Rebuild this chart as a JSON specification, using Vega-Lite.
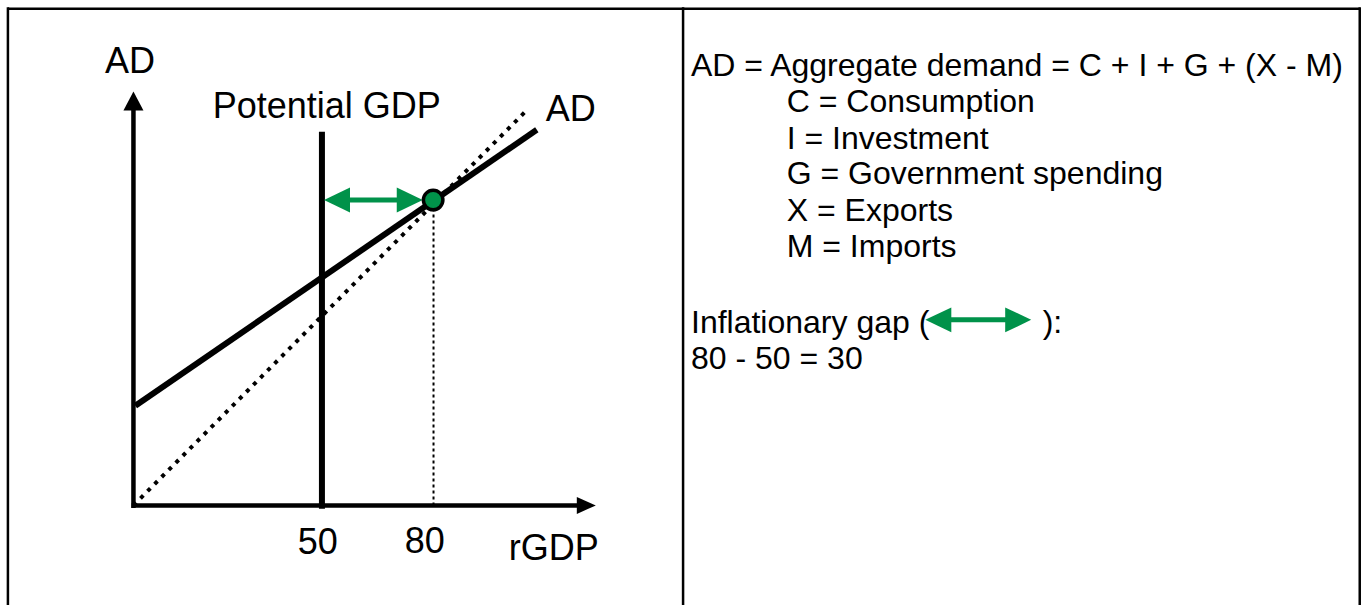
{
  "$schema": "https://vega.github.io/schema/vega-lite/v6.json",
  "width": 1362,
  "height": 607,
  "autosize": {"type": "fit", "contains": "padding"},
  "padding": 0,
  "background": "white",
  "config": {"view": {"stroke": null}},
  "datasets": {
    "frame": [
      {"x": -33.3, "y": 130.1, "x2": 325.3, "y2": 130.1},
      {"x": -33.3, "y": 130.5, "x2": -33.3, "y2": -26.1},
      {"x": 145.8, "y": 130.5, "x2": 145.8, "y2": -26.1},
      {"x": 325.3, "y": 130.5, "x2": 325.3, "y2": -26.1}
    ],
    "axes": [
      {"x": 0, "y": -0.7, "x2": 0, "y2": 103.6},
      {"x": -0.5, "y": 0, "x2": 117.8, "y2": 0}
    ],
    "arrowUp": [{"x": 0, "y": 105.8}],
    "arrowRight": [{"x": 120.0, "y": 0}],
    "diag": [{"x": 0, "y": 0, "x2": 104, "y2": 103.2}],
    "ad": [{"x": 0.5, "y": 26.1, "x2": 107, "y2": 98.4}],
    "potential": [{"x": 50, "y": -0.9, "x2": 50, "y2": 97.9}],
    "eqline": [{"x": 79.6, "y": 0, "x2": 79.6, "y2": 80}],
    "gapShaft": [
      {"x": 55, "y": 80, "x2": 72.5, "y2": 80},
      {"x": 213.5, "y": 48.6, "x2": 234.7, "y2": 48.6}
    ],
    "gapLeft": [{"x": 54.0, "y": 80}, {"x": 213.5, "y": 48.6}],
    "gapRight": [{"x": 73.3, "y": 80}, {"x": 234.7, "y": 48.6}],
    "eqpoint": [{"x": 79.5, "y": 80}],
    "bigText": [
      {"label": "AD", "x": -0.9, "y": 116.2},
      {"label": "Potential GDP", "x": 51.3, "y": 104.3},
      {"label": "AD", "x": 116.0, "y": 103.5},
      {"label": "50", "x": 48.9, "y": -9.9},
      {"label": "80", "x": 77.3, "y": -9.6},
      {"label": "rGDP", "x": 111.5, "y": -11.4}
    ],
    "notes": [
      {"label": "AD = Aggregate demand = C + I + G + (X - M)", "x": 147.9, "y": 115.2},
      {"label": "C = Consumption", "x": 173.3, "y": 105.8},
      {"label": "I = Investment", "x": 173.3, "y": 96.1},
      {"label": "G = Government spending", "x": 173.3, "y": 86.7},
      {"label": "X = Exports", "x": 173.3, "y": 77.0},
      {"label": "M = Imports", "x": 173.3, "y": 67.6},
      {"label": "Inflationary gap (", "x": 147.9, "y": 47.8},
      {"label": "):", "x": 241.2, "y": 47.8},
      {"label": "80 - 50 = 30", "x": 147.9, "y": 38.4}
    ]
  },
  "encoding": {
    "x": {"field": "x", "type": "quantitative", "scale": {"domain": [-35.4, 325.9], "nice": false, "zero": false}, "axis": null},
    "y": {"field": "y", "type": "quantitative", "scale": {"domain": [-26.1, 132.4], "nice": false, "zero": false}, "axis": null}
  },
  "layer": [
    {
      "data": {"name": "frame"},
      "mark": {"type": "rule", "color": "black", "strokeWidth": 2.5},
      "encoding": {"x2": {"field": "x2"}, "y2": {"field": "y2"}}
    },
    {
      "data": {"name": "diag"},
      "mark": {"type": "rule", "color": "black", "strokeWidth": 4, "strokeDash": [4, 6]},
      "encoding": {"x2": {"field": "x2"}, "y2": {"field": "y2"}}
    },
    {
      "data": {"name": "eqline"},
      "mark": {"type": "rule", "color": "black", "strokeWidth": 2, "strokeDash": [3, 3]},
      "encoding": {"x2": {"field": "x2"}, "y2": {"field": "y2"}}
    },
    {
      "data": {"name": "axes"},
      "mark": {"type": "rule", "color": "black", "strokeWidth": 4.5},
      "encoding": {"x2": {"field": "x2"}, "y2": {"field": "y2"}}
    },
    {
      "data": {"name": "arrowUp"},
      "mark": {"type": "point", "shape": "M0,-1L-1,0.9L1,0.9Z", "size": 400, "filled": true, "color": "black", "opacity": 1},
      "encoding": {}
    },
    {
      "data": {"name": "arrowRight"},
      "mark": {"type": "point", "shape": "M1,0L-0.9,-0.85L-0.9,0.85Z", "size": 400, "filled": true, "color": "black", "opacity": 1},
      "encoding": {}
    },
    {
      "data": {"name": "potential"},
      "mark": {"type": "rule", "color": "black", "strokeWidth": 6},
      "encoding": {"x2": {"field": "x2"}, "y2": {"field": "y2"}}
    },
    {
      "data": {"name": "ad"},
      "mark": {"type": "rule", "color": "black", "strokeWidth": 6},
      "encoding": {"x2": {"field": "x2"}, "y2": {"field": "y2"}}
    },
    {
      "data": {"name": "gapShaft"},
      "mark": {"type": "rule", "color": "#00924A", "strokeWidth": 5},
      "encoding": {"x2": {"field": "x2"}, "y2": {"field": "y2"}}
    },
    {
      "data": {"name": "gapLeft"},
      "mark": {"type": "point", "shape": "M-1,0L1,-0.96L1,0.96Z", "size": 676, "filled": true, "color": "#00924A", "opacity": 1},
      "encoding": {}
    },
    {
      "data": {"name": "gapRight"},
      "mark": {"type": "point", "shape": "M1,0L-1,-0.96L-1,0.96Z", "size": 676, "filled": true, "color": "#00924A", "opacity": 1},
      "encoding": {}
    },
    {
      "data": {"name": "eqpoint"},
      "mark": {"type": "point", "shape": "circle", "size": 380, "filled": true, "fill": "#00924A", "stroke": "black", "strokeWidth": 3.5, "opacity": 1},
      "encoding": {}
    },
    {
      "data": {"name": "bigText"},
      "mark": {"type": "text", "font": "Liberation Sans", "fontSize": 36, "align": "center", "baseline": "middle", "color": "black"},
      "encoding": {"text": {"field": "label"}}
    },
    {
      "data": {"name": "notes"},
      "mark": {"type": "text", "font": "Liberation Sans", "fontSize": 32, "align": "left", "baseline": "middle", "color": "black"},
      "encoding": {"text": {"field": "label"}}
    }
  ]
}
